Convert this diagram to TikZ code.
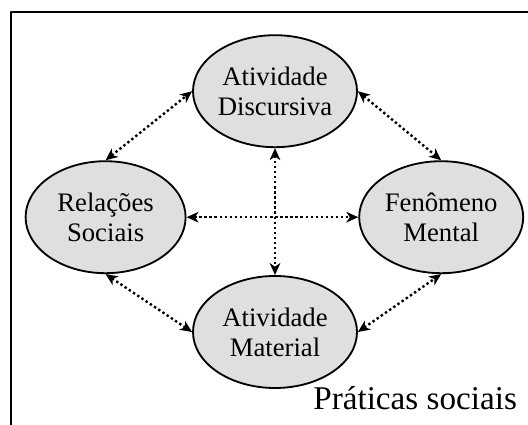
\documentclass[tikz,border=0pt]{standalone}
\usepackage{fontspec}
\setmainfont{Liberation Serif}
\usetikzlibrary{shapes.geometric, arrows.meta}
\begin{document}
\begin{tikzpicture}[line join=round, >={Stealth[length=8.5pt, width=7.5pt, inset=2.5pt]},
	elipse/.style={ellipse, draw, line width=1.3pt, fill=gray!25, minimum width=4.1cm, minimum height=2.8cm, inner sep=0pt, align=center, font=\fontsize{19}{21.3}\selectfont},
	seta/.style={<->, line width=1.7pt, dash pattern=on 1.7pt off 1.9pt}]
	\useasboundingbox (0,0) rectangle (13.2,10.6);
	\clip (0,0) rectangle (13.2,10.6);
	\draw[line width=1.5pt] (0.275,-1) rectangle (14,10.3);
	\node[elipse] (AD) at (6.875,8.32) {Atividade\\Discursiva};
	\node[elipse] (AM) at (6.875,2.3) {Atividade\\Material};
	\node[elipse, minimum width=4cm] (RS) at (2.64,5.17) {Relações\\Sociais};
	\node[elipse] (FM) at (11.03,5.17) {Fenômeno\\Mental};
	\node[anchor=base east, inner sep=0pt, font=\fontsize{23.6}{28}\selectfont] (PS) at (12.93,0.35) {Práticas sociais};
	\draw[seta] (RS.north)--(AD.west);
	\draw[seta] (AD.east)--(FM.north);
	\draw[seta] (RS.south)--(AM.west);
	\draw[seta] (AM.east)--(FM.south);
	\draw[seta] (RS.east)--(FM.west);
	\draw[seta] (AD.south)--(AM.north);
\end{tikzpicture}
\end{document}
